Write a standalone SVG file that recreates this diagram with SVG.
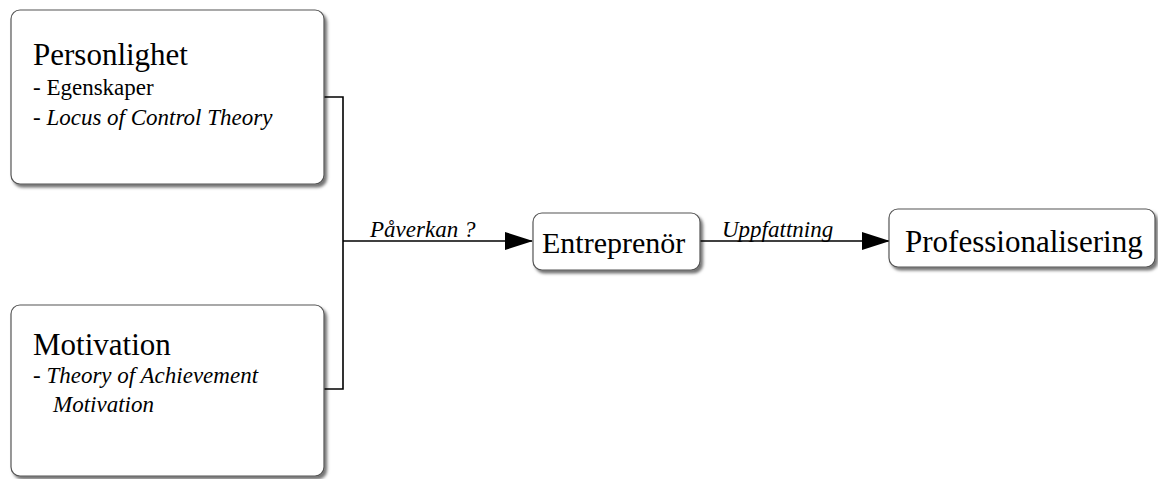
<svg xmlns="http://www.w3.org/2000/svg" width="1158" height="479" viewBox="0 0 1158 479">
<style>
.box{fill:#fff;stroke:#555;stroke-width:1.2;filter:url(#sh)}
.t{font-family:"Liberation Serif","Times New Roman",serif;fill:#000}
.i{font-style:italic}
.c{fill:none;stroke:#000;stroke-width:1.6}
</style>
<defs>
<filter id="sh" x="-10%" y="-10%" width="130%" height="130%">
<feDropShadow dx="2.5" dy="3" stdDeviation="1.5" flood-color="#000" flood-opacity="0.55"/>
</filter>
<marker id="ar" markerWidth="28" markerHeight="18" refX="27" refY="9" orient="auto" markerUnits="userSpaceOnUse">
<path d="M0,0 L28,9 L0,18 Z" fill="#000"/>
</marker>
</defs>
<rect width="1158" height="479" fill="#fff"/>
<g id="connectors">
<polyline class="c" points="324,97 343,97 343,389 324,389"/>
<line class="c" x1="343" y1="241" x2="532" y2="241" marker-end="url(#ar)"/>
<line class="c" x1="700" y1="241" x2="889" y2="241" marker-end="url(#ar)"/>
<text class="t i" x="370" y="237" font-size="23">Påverkan ?</text>
<text class="t i" x="722" y="237" font-size="23">Uppfattning</text>
</g>
<g id="personlighet">
<rect class="box" x="11" y="10" width="313" height="174" rx="9"/>
<text class="t" x="33" y="65" font-size="31">Personlighet</text>
<text class="t" x="33" y="95" font-size="23">- Egenskaper</text>
<text class="t" x="33" y="125" font-size="23">- <tspan class="i">Locus of Control Theory</tspan></text>
</g>
<g id="motivation">
<rect class="box" x="11" y="305" width="313" height="171" rx="9"/>
<text class="t" x="33" y="355" font-size="31">Motivation</text>
<text class="t" x="33" y="383" font-size="23">- <tspan class="i">Theory of Achievement</tspan></text>
<text class="t i" x="53" y="412" font-size="23">Motivation</text>
</g>
<g id="entreprenor">
<rect class="box" x="533" y="213" width="167" height="57" rx="9"/>
<text class="t" x="542" y="253" font-size="30">Entreprenör</text>
</g>
<g id="professionalisering">
<rect class="box" x="889" y="209" width="266" height="58" rx="9"/>
<text class="t" x="905" y="252" font-size="31">Professionalisering</text>
</g>
</svg>
